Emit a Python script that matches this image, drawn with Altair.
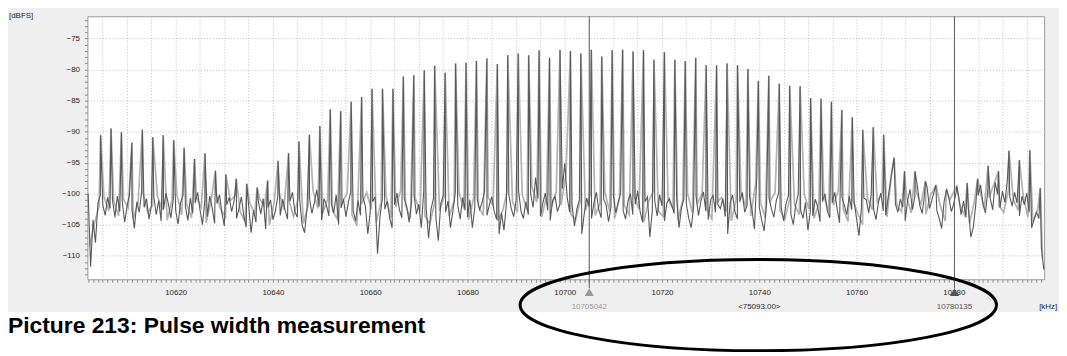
import altair as alt
import pandas as pd

# ---------------- data ----------------
X_DOMAIN = [10601.84, 10798.57]          # kHz
Y_DOMAIN = [-113.8, -71.4]               # dBFS

# comb of spectral lines (kHz) and their peak levels (dBFS)
spike_freq = [
    10604.55, 10606.70, 10608.84, 10610.99, 10613.14, 10615.29, 10617.43, 10619.58, 10621.73, 10623.87,
    10626.02, 10628.17, 10630.31, 10632.46, 10634.61, 10636.76, 10638.90, 10641.05, 10643.20, 10645.34,
    10647.49, 10649.64, 10651.78, 10653.93, 10656.08, 10658.23, 10660.37, 10662.52, 10664.67, 10666.81,
    10668.96, 10671.11, 10673.25, 10675.40, 10677.55, 10679.70, 10681.84, 10683.99, 10686.14, 10688.28,
    10690.43, 10692.58, 10694.72, 10696.87, 10699.02, 10701.17, 10703.31, 10705.46, 10707.61, 10709.75,
    10711.90, 10714.05, 10716.19, 10718.34, 10720.49, 10722.64, 10724.78, 10726.93, 10729.08, 10731.22,
    10733.37, 10735.52, 10737.66, 10739.81, 10741.96, 10744.11, 10746.25, 10748.40, 10750.55, 10752.69,
    10754.84, 10756.99, 10759.13, 10761.28, 10763.43, 10765.58, 10767.72, 10769.87, 10772.02, 10774.16,
    10776.31, 10778.46, 10780.60, 10782.75, 10784.90, 10787.05, 10789.19, 10791.34, 10793.49, 10795.63,
    10797.78,
]
spike_db = [
    -90.6, -89.5, -90.1, -91.8, -89.7, -90.9, -90.6, -91.4, -92.6, -94.4,
    -93.5, -96.3, -96.9, -97.6, -98.4, -99.0, -97.9, -94.7, -93.5, -91.6,
    -90.5, -89.1, -86.4, -86.7, -85.2, -84.4, -83.1, -83.1, -83.1, -81.1,
    -80.9, -80.1, -79.4, -80.5, -79.0, -78.9, -78.6, -78.2, -79.1, -77.7,
    -77.4, -77.7, -76.9, -78.1, -76.8, -77.0, -77.4, -76.8, -77.9, -76.9,
    -76.8, -77.1, -76.9, -78.4, -77.2, -78.4, -78.6, -78.1, -79.3, -79.3,
    -79.0, -79.3, -79.9, -81.8, -81.0, -82.3, -82.6, -82.7, -84.6, -84.7,
    -85.2, -86.5, -87.7, -89.7, -89.3, -90.5, -94.2, -96.4, -96.4, -98.0,
    -98.6, -99.5, -98.8, -98.3, -97.6, -95.5, -96.4, -93.1, -94.6, -93.0,
    -99.1,
]

# noise floor of the dark trace, one sample every 0.5 kHz from 10602.0 kHz
dark_start, dark_step = 10602.0, 0.5
dark_db = [
    -100.0, -111.8, -104.2, -107.9, -101.6, -100.2, -101.8, -103.5, -100.6, -102.4, -101.0, -103.8, -100.4, -102.9, -101.2, -104.6, -102.0, -100.1, -102.5, -105.6,
    -101.3, -103.0, -99.6, -102.2, -100.8, -104.1, -101.9, -100.5, -103.4, -101.1, -104.4, -102.6, -99.9, -101.7, -103.9, -100.9, -102.8, -104.9, -101.4, -100.3,
    -102.1, -104.3, -100.7, -103.2, -101.5, -99.8, -102.6, -105.0, -101.0, -103.7, -100.4, -102.3, -104.8, -101.6, -100.2, -103.1, -105.2, -101.8, -100.6, -102.9,
    -101.2, -104.0, -102.4, -100.5, -103.6, -105.4, -101.9, -106.3, -102.7, -104.6, -101.3, -103.3, -100.8, -105.7, -102.2, -101.0, -104.2, -102.8, -100.4, -103.5,
    -100.9, -102.7, -104.1, -101.2, -99.8, -102.9, -103.8, -101.0, -105.1, -106.3, -102.4, -100.6, -103.2, -101.5, -99.4, -102.1, -104.3, -100.8, -101.9, -103.6,
    -101.6, -103.1, -100.2, -105.0, -102.3, -100.9, -103.7, -101.4, -99.7, -102.8, -104.4, -101.1, -103.5, -100.6, -102.0, -106.5, -103.0, -101.3, -100.5, -109.7,
    -103.8, -100.7, -102.5, -101.2, -104.0, -105.5, -101.8, -99.9, -102.6, -103.9, -100.8, -102.1, -104.6, -101.4, -100.2, -103.3, -101.7, -105.5, -99.6, -102.4,
    -107.2, -102.5, -100.8, -103.9, -107.6, -101.6, -100.3, -103.0, -101.2, -105.5, -102.8, -99.8, -101.9, -104.1, -100.6, -102.7, -103.8, -101.0, -105.5, -102.2,
    -100.9, -102.6, -101.4, -99.7, -103.5, -101.8, -100.5, -102.9, -104.2, -106.5, -103.1, -105.9, -101.6, -100.2, -102.4, -103.7, -101.0, -99.5, -102.8, -104.0,
    -101.3, -103.4, -100.1, -102.2, -97.4, -100.8, -103.6, -101.5, -99.9, -102.7, -104.3, -101.1, -100.4, -102.9, -101.7, -99.2, -95.1, -100.6, -103.0, -101.9,
    -105.2, -102.4, -101.0, -106.5, -103.3, -100.7, -102.1, -104.0, -101.5, -99.8, -102.6, -103.9, -100.9, -101.8, -104.5, -102.2, -100.3, -103.1, -101.4, -99.9,
    -102.7, -104.1, -101.2, -100.0, -103.4, -101.7, -99.6, -102.9, -104.6, -101.3, -100.5, -107.0, -102.8, -101.1, -103.6, -100.2, -102.0, -104.4, -101.5, -100.8,
    -101.9, -103.2, -100.6, -105.5, -102.3, -100.9, -101.6, -104.0, -105.5, -102.1, -100.4, -103.5, -101.2, -99.7, -102.8, -104.2, -101.0, -100.3, -103.0, -101.8,
    -102.4, -100.8, -103.7, -106.5, -101.5, -100.2, -102.9, -104.1, -101.3, -99.8, -103.0, -101.9, -100.5, -102.6, -105.7, -97.1, -102.2, -104.3, -106.0, -101.6,
    -100.7, -102.5, -103.8, -101.1, -99.9, -102.2, -104.4, -101.6, -100.3, -103.3, -105.0, -101.8, -100.1, -102.7, -104.0, -101.4, -105.9, -102.9, -103.6, -100.9,
    -102.1, -104.5, -101.3, -100.0, -102.8, -103.9, -101.5, -99.8, -102.4, -104.7, -100.6, -101.9, -103.4, -100.4, -102.6, -101.2, -104.0, -106.8, -102.3, -100.7,
    -101.0, -103.1, -100.2, -102.5, -104.2, -101.4, -99.9, -102.8, -103.5, -100.6, -97.8, -95.4, -101.7, -103.0, -100.9, -102.2, -104.4, -101.1, -99.3, -102.6,
    -100.4, -98.7, -101.9, -103.2, -100.1, -98.9, -102.4, -101.0, -99.5, -102.7, -104.0, -105.6, -101.3, -99.2, -100.8, -102.9, -101.6, -99.7, -100.5, -103.4,
    -101.2, -103.8, -102.5, -107.0, -105.5, -101.9, -100.3, -98.6, -101.7, -103.1, -99.4, -100.8, -102.6, -98.2, -100.1, -102.3, -99.6, -101.4, -97.9, -100.5,
    -102.0, -99.8, -101.5, -103.6, -100.4, -101.8, -99.9, -103.0, -105.5, -104.2, -103.0, -104.0, -108.7, -112.2,
]

# noise floor of the light trace, one sample every 1 kHz from 10602.25 kHz
light_start, light_step = 10602.25, 1.0
light_db = [
    -108.5, -105.0, -102.0, -100.5, -102.8, -101.2, -103.6, -100.9, -102.3, -104.1,
    -101.5, -99.8, -103.0, -101.9, -100.4, -102.7, -104.3, -101.0, -100.2, -103.4,
    -101.7, -103.9, -100.6, -102.2, -104.7, -101.3, -99.9, -102.5, -103.8, -101.1,
    -100.3, -102.9, -104.5, -101.6, -103.2, -100.8, -102.0, -105.1, -101.4, -99.7,
    -102.6, -101.0, -103.7, -100.5, -104.8, -101.8, -99.6, -102.4, -103.1, -100.9,
    -102.8, -104.1, -101.3, -100.0, -103.4, -105.2, -101.7, -99.8, -102.5, -104.6,
    -101.2, -100.4, -103.9, -102.1, -99.5, -101.8, -104.0, -100.7, -102.9, -103.6,
    -104.9, -101.5, -102.8, -100.3, -103.7, -101.1, -99.9, -102.4, -104.2, -100.8,
    -102.0, -103.5, -100.6, -101.9, -104.4, -102.7, -99.4, -101.3, -103.0, -100.2,
    -102.6, -98.9, -101.4, -103.8, -100.5, -102.2, -99.7, -101.8, -96.8, -103.3,
    -104.2, -101.0, -102.7, -100.1, -103.5, -101.6, -99.8, -102.9, -104.0, -100.7,
    -101.9, -103.4, -100.3, -102.5, -104.6, -101.2, -99.6, -102.8, -103.7, -100.9,
    -102.4, -104.3, -101.1, -100.0, -103.1, -101.7, -99.9, -102.6, -104.1, -101.4,
    -100.6, -102.9, -104.4, -101.0, -99.7, -102.3, -103.6, -98.4, -101.5, -103.9,
    -101.2, -99.8, -102.7, -104.2, -100.9, -101.8, -103.4, -100.2, -102.5, -104.0,
    -101.6, -100.3, -103.0, -101.9, -99.5, -102.4, -104.5, -101.1, -103.2, -105.0,
    -100.8, -102.6, -101.3, -99.9, -103.7, -96.5, -101.8, -102.9, -100.4, -103.1,
    -99.6, -101.7, -103.3, -100.2, -98.8, -102.0, -104.4, -100.9, -99.3, -101.8,
    -103.5, -104.8, -101.2, -99.0, -102.4, -100.6, -98.5, -101.9, -103.0, -99.4,
    -101.0, -102.7, -100.3, -103.8, -104.6, -102.5, -110.5,
]

# axis tick values
x_minor_ticks = list(range(10602, 10799))
x_grid_values = list(range(10605, 10799, 5))
x_label_values = [10620, 10640, 10660, 10680, 10700, 10720, 10740, 10760, 10780]
y_minor_ticks = list(range(-113, -71))
y_grid_values = [-110, -105, -100, -95, -90, -85, -80, -75]
y_label_values = [-110, -105, -100, -95, -90, -85, -80, -75]

# markers
cursor_freq = [10705.042, 10780.135]
cursor_text = ["10705042", "10780135"]
cursor_text_color = ["#9a9a9a", "#555555"]
delta_freq = 10740.0
delta_text = "<75093.00>"
title_text = "Picture 213: Pulse width measurement"

# ---------------- tables ----------------
rows = []
for i, v in enumerate(dark_db):
    rows.append({"trace": "dark", "freq": dark_start + i * dark_step, "db": v})
for i, v in enumerate(light_db):
    rows.append({"trace": "light", "freq": light_start + i * light_step, "db": v})
for f, v in zip(spike_freq, spike_db):
    rows.append({"trace": "dark", "freq": f, "db": v})
    rows.append({"trace": "light", "freq": f, "db": v})
trace = pd.DataFrame(rows).sort_values(["trace", "freq"]).reset_index(drop=True)

cursors = pd.DataFrame({"freq": cursor_freq, "label": cursor_text, "color": cursor_text_color})
delta = pd.DataFrame({"freq": [delta_freq], "label": [delta_text]})
one = pd.DataFrame({"k": [0]})

FONT = "Liberation Sans"

def in_list(vals):
    return "indexof([" + ",".join(str(v) for v in vals) + "], datum.value) >= 0"

x_scale = alt.Scale(domain=X_DOMAIN, nice=False, zero=False)
y_scale = alt.Scale(domain=Y_DOMAIN, nice=False, zero=False)

x_axis = alt.Axis(
    values=x_minor_ticks, tickCount=1000, format="d", title=None,
    labelExpr=in_list(x_label_values) + " ? datum.label : ''",
    grid=True, gridColor="#c0c0c0", gridDash=[1, 2], gridWidth=1,
    gridOpacity={"condition": {"test": in_list(x_grid_values), "value": 1}, "value": 0},
    domain=False, tickSize=3, tickColor="#8c8c8c", tickWidth=1,
    labelFont=FONT, labelFontSize=8, labelColor="#1e1e1e", labelPadding=6,
    labelOverlap=False, labelBound=False, labelFlush=False,
)
y_axis = alt.Axis(
    values=y_minor_ticks, tickCount=1000, format="d", title=None,
    labelExpr=in_list(y_label_values) + " ? datum.label : ''",
    grid=True, gridColor="#c0c0c0", gridDash=[1, 2], gridWidth=1,
    gridOpacity={"condition": {"test": in_list(y_grid_values), "value": 1}, "value": 0},
    domain=False, tickSize=3, tickColor="#8c8c8c", tickWidth=1,
    labelFont=FONT, labelFontSize=8, labelColor="#1e1e1e", labelPadding=5,
    labelOverlap=False, labelBound=False, labelFlush=False,
)

# white strip under the grey instrument panel
bottom_white = alt.Chart(one).mark_rect(color="white").encode(
    x=alt.value(-80), x2=alt.value(990), y=alt.value(298), y2=alt.value(350)
)

light_line = alt.Chart(trace).transform_filter(alt.datum.trace == "light").mark_line(
    color="#b2b2b2", strokeWidth=1.7
).encode(
    x=alt.X("freq:Q", scale=x_scale, axis=x_axis),
    y=alt.Y("db:Q", scale=y_scale, axis=y_axis),
    order="freq:Q",
)
dark_line = alt.Chart(trace).transform_filter(alt.datum.trace == "dark").mark_line(
    color="#585858", strokeWidth=1.1
).encode(
    x=alt.X("freq:Q", scale=x_scale),
    y=alt.Y("db:Q", scale=y_scale),
    order="freq:Q",
)

cursor_rules = alt.Chart(cursors).mark_rule(color="#5e5e5e", strokeWidth=1).encode(
    x=alt.X("freq:Q", scale=x_scale), y=alt.value(0), y2=alt.value(274)
)
cursor_marks = alt.Chart(cursors).mark_point(
    shape="triangle-up", filled=True, opacity=1, size=85
).encode(
    x=alt.X("freq:Q", scale=x_scale), y=alt.value(278),
    color=alt.Color("color:N", scale=None, legend=None),
)
cursor_labels = alt.Chart(cursors).mark_text(
    font=FONT, fontSize=8, align="center", baseline="middle"
).encode(
    x=alt.X("freq:Q", scale=x_scale), y=alt.value(293), text="label:N",
    color=alt.Color("color:N", scale=None, legend=None),
)
delta_label = alt.Chart(delta).mark_text(
    font=FONT, fontSize=8, align="center", baseline="middle", color="#2a2a2a"
).encode(x=alt.X("freq:Q", scale=x_scale), y=alt.value(293), text="label:N")

dbfs_unit = alt.Chart(one).mark_text(
    text="[dBFS]", font=FONT, fontSize=8, align="left", baseline="middle", color="#1e1e1e"
).encode(x=alt.value(-79), y=alt.value(0))
khz_unit = alt.Chart(one).mark_text(
    text="[kHz]", font=FONT, fontSize=8, align="left", baseline="middle", color="#1e1e1e"
).encode(x=alt.value(959), y=alt.value(293))

title = alt.Chart(one).mark_text(
    text=title_text, font=FONT, fontSize=23, fontWeight="bold", align="left",
    baseline="alphabetic", color="black"
).encode(x=alt.value(-80), y=alt.value(319))

ellipse_path = ("M -1 0 C -1 -0.1059 -0.5523 -0.1917 0 -0.1917 "
                "C 0.5523 -0.1917 1 -0.1059 1 0 "
                "C 1 0.1059 0.5523 0.1917 0 0.1917 "
                "C -0.5523 0.1917 -1 0.1059 -1 0 Z")
ellipse = alt.Chart(one).mark_point(
    shape=ellipse_path, size=480 * 480, filled=False, stroke="black",
    strokeWidth=3, opacity=1
).encode(x=alt.value(676), y=alt.value(291))

chart = alt.layer(
    bottom_white, light_line, dark_line, cursor_rules, cursor_marks,
    cursor_labels, delta_label, dbfs_unit, khz_unit, title, ellipse
).properties(
    width=964, height=265,
    autosize=alt.AutoSizeParams(type="none"),
    padding={"left": 80, "top": 7, "right": 15, "bottom": 72},
).configure(
    background="#efefef",
).configure_view(
    stroke="#9a9a9a", fill="white", strokeWidth=1
)

chart.save("out.html", embed_options={"renderer": "svg", "actions": False})
